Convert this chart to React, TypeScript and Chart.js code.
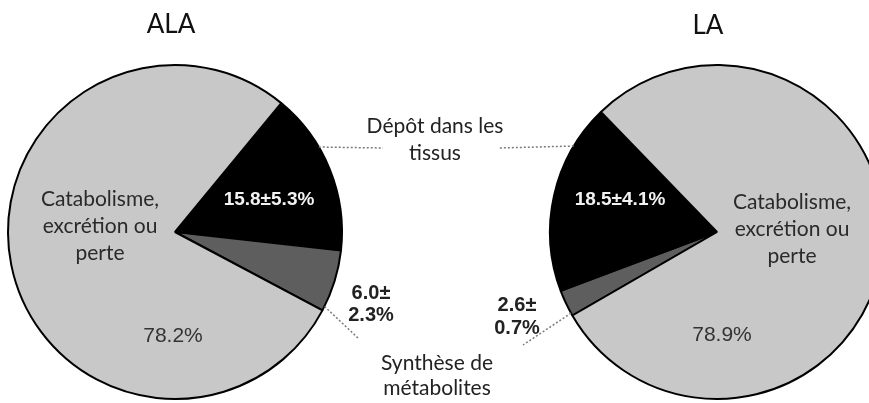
import React, { useEffect, useRef } from "react";
import { Chart, registerables } from "chart.js";

Chart.register(...registerables);

// ---- Data ----
const titles = ["ALA", "LA"];
const alaCategories = ["Dépôt dans les tissus", "Synthèse de métabolites", "Catabolisme, excrétion ou perte"];
const alaValues = [15.8, 6.0, 78.2];
const alaSD = [5.3, 2.3, null];
const laCategories = ["Synthèse de métabolites", "Dépôt dans les tissus", "Catabolisme, excrétion ou perte"];
const laValues = [2.6, 18.5, 78.9];
const laSD = [0.7, 4.1, null];

// ---- Styles ----
const categoryColors: Record<string, string> = {
  "Dépôt dans les tissus": "#000000",
  "Synthèse de métabolites": "#5e5e5e",
  "Catabolisme, excrétion ou perte": "#c8c8c8",
};

const W = 869;
const H = 403;

const LATO = "Lato, 'Open Sans', sans-serif";
const ARIAL = "'Liberation Sans', Arial, sans-serif";

const fmtSD = (v: number, sd: number | null, split: boolean): string[] => {
  if (sd == null) return [`${v.toFixed(1)}%`];
  return split ? [`${v.toFixed(1)}±`, `${sd.toFixed(1)}%`] : [`${v.toFixed(1)}±${sd.toFixed(1)}%`];
};

type TextItem = { lines: string[]; x: number; y: number; lh: number; font: string; color: string };
type Leader = { index: number; frac: number; to: [number, number] };
type OverlayCfg = { offsetX: number; texts: TextItem[]; leaders: Leader[] };

const makeOverlay = (cfg: OverlayCfg) => ({
  id: "overlay",
  afterDatasetsDraw(chart: any) {
    const ctx = chart.ctx as CanvasRenderingContext2D;
    const meta = chart.getDatasetMeta(0);
    ctx.save();
    for (const l of cfg.leaders) {
      const arc = meta.data[l.index];
      const p = arc.getProps(["x", "y", "startAngle", "endAngle", "outerRadius"], true);
      const a = p.startAngle + (p.endAngle - p.startAngle) * l.frac;
      const sx = p.x + p.outerRadius * Math.cos(a);
      const sy = p.y + p.outerRadius * Math.sin(a);
      ctx.beginPath();
      ctx.setLineDash([2, 2]);
      ctx.strokeStyle = "#7a7a7a";
      ctx.lineWidth = 1.5;
      ctx.moveTo(sx, sy);
      ctx.lineTo(l.to[0] - cfg.offsetX, l.to[1]);
      ctx.stroke();
    }
    ctx.setLineDash([]);
    ctx.textAlign = "center";
    ctx.textBaseline = "middle";
    for (const t of cfg.texts) {
      ctx.font = t.font;
      ctx.fillStyle = t.color;
      t.lines.forEach((line, i) => ctx.fillText(line, t.x - cfg.offsetX, t.y + i * t.lh));
    }
    ctx.restore();
  },
});

const splitCat = (c: string): string[] => {
  if (c.startsWith("Catabolisme")) return ["Catabolisme,", "excrétion ou", "perte"];
  if (c.startsWith("Dépôt")) return ["Dépôt dans les", "tissus"];
  return ["Synthèse de", "métabolites"];
};

const leftCfg: OverlayCfg = {
  offsetX: 0,
  texts: [
    { lines: [titles[0]], x: 171, y: 25, lh: 0, font: `26px ${LATO}`, color: "#111" },
    { lines: splitCat(alaCategories[2]), x: 100, y: 199, lh: 27, font: `21px ${LATO}`, color: "#2a2a2a" },
    { lines: fmtSD(alaValues[0], alaSD[0], false), x: 269, y: 200, lh: 0, font: `bold 19px ${ARIAL}`, color: "#f2f2f2" },
    { lines: fmtSD(alaValues[1], alaSD[1], true), x: 371, y: 293, lh: 22, font: `bold 20px ${ARIAL}`, color: "#222" },
    { lines: fmtSD(alaValues[2], alaSD[2], false), x: 173, y: 336, lh: 0, font: `21px ${ARIAL}`, color: "#333" },
    { lines: splitCat(alaCategories[0]), x: 435, y: 126, lh: 27, font: `21px ${LATO}`, color: "#222" },
    { lines: splitCat(alaCategories[1]), x: 437, y: 363, lh: 25, font: `21px ${LATO}`, color: "#222" },
  ],
  leaders: [
    { index: 0, frac: 0.35, to: [383, 148] },
    { index: 1, frac: 0.93, to: [358, 338] },
  ],
};

const RIGHT_OFFSET = 434;
const rightCfg: OverlayCfg = {
  offsetX: RIGHT_OFFSET,
  texts: [
    { lines: [titles[1]], x: 708, y: 26, lh: 0, font: `26px ${LATO}`, color: "#111" },
    { lines: splitCat(laCategories[2]), x: 792, y: 202, lh: 27, font: `21px ${LATO}`, color: "#2a2a2a" },
    { lines: fmtSD(laValues[1], laSD[1], false), x: 620, y: 200, lh: 0, font: `bold 19px ${ARIAL}`, color: "#f2f2f2" },
    { lines: fmtSD(laValues[0], laSD[0], true), x: 517, y: 305, lh: 23, font: `bold 20px ${ARIAL}`, color: "#222" },
    { lines: fmtSD(laValues[2], laSD[2], false), x: 722, y: 335, lh: 0, font: `21px ${ARIAL}`, color: "#333" },
  ],
  leaders: [
    { index: 1, frac: 0.775, to: [498, 148] },
    { index: 0, frac: 0.1, to: [523, 345] },
  ],
};

function makePie(
  canvas: HTMLCanvasElement,
  cats: string[],
  vals: number[],
  rotation: number,
  padding: { left: number; right: number; top: number; bottom: number },
  cfg: OverlayCfg
) {
  return new Chart(canvas, {
    type: "pie",
    data: {
      labels: cats,
      datasets: [
        {
          data: vals,
          backgroundColor: cats.map((c) => categoryColors[c]),
          borderColor: "#000",
          borderWidth: 2,
          hoverOffset: 0,
        },
      ],
    },
    options: {
      responsive: false,
      animation: false,
      rotation,
      layout: { padding },
      plugins: { legend: { display: false }, tooltip: { enabled: false }, title: { display: false } },
      events: [],
    },
    plugins: [makeOverlay(cfg)],
  } as any);
}

export default function App() {
  const leftRef = useRef<HTMLCanvasElement>(null);
  const rightRef = useRef<HTMLCanvasElement>(null);

  useEffect(() => {
    const c1 = makePie(leftRef.current!, alaCategories, alaValues, 39.5,
      { left: 7, right: W - 343, top: 64, bottom: 3 }, leftCfg);
    const c2 = makePie(rightRef.current!, laCategories, laValues, 240,
      { left: 115, right: 600 - 451, top: 64, bottom: 3 }, rightCfg);
    return () => {
      c1.destroy();
      c2.destroy();
    };
  }, []);

  return (
    <div
      style={{
        position: "absolute",
        left: 0,
        top: 0,
        width: W,
        height: H,
        overflow: "hidden",
        background: "#fff",
      }}
    >
      <canvas ref={leftRef} width={W} height={H} style={{ position: "absolute", left: 0, top: 0 }} />
      <canvas ref={rightRef} width={600} height={H} style={{ position: "absolute", left: RIGHT_OFFSET, top: 0 }} />
    </div>
  );
}
